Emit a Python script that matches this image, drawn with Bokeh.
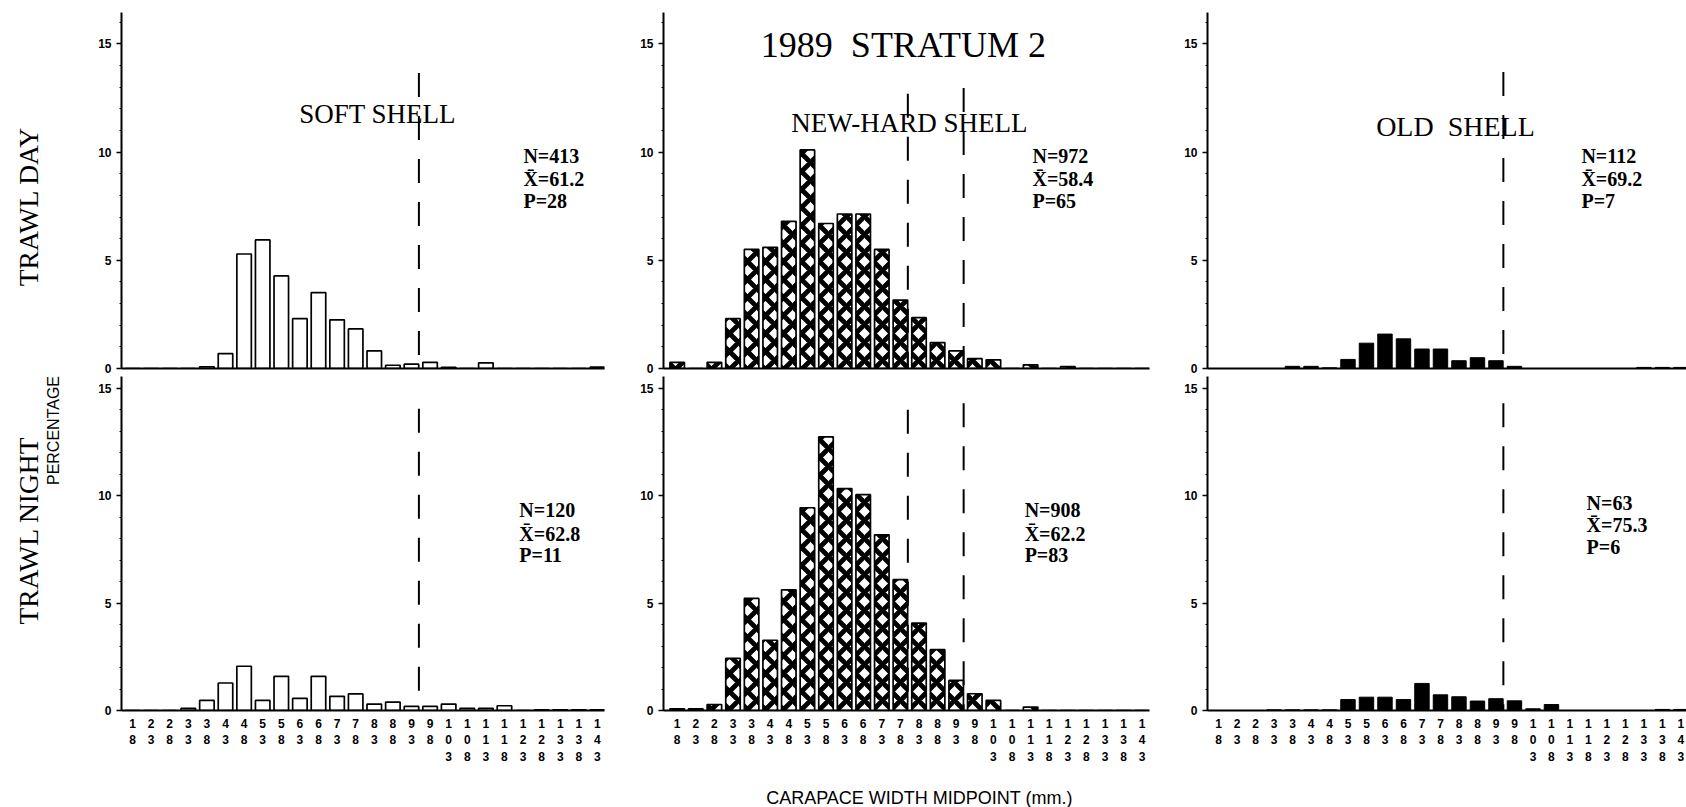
import math
from bokeh.plotting import figure
from bokeh.layouts import column, row
from bokeh.models import ColumnDataSource, Label, FixedTicker, Range1d
from bokeh.core.properties import value
from bokeh.embed import file_html
from bokeh.resources import INLINE

# ---- data -------------------------------------------------------------
midpoints = [18, 23, 28, 33, 38, 43, 48, 53, 58, 63, 68, 73, 78,
             83, 88, 93, 98, 103, 108, 113, 118, 123, 128, 133, 138, 143]
tick_labels = ["\n".join(str(m)) for m in midpoints]

soft_day = [0, 0, 0, 0, 0.08, 0.69, 5.29, 5.94, 4.28, 2.30, 3.51, 2.25, 1.83,
            0.81, 0.15, 0.20, 0.28, 0.05, 0, 0.26, 0, 0, 0, 0, 0, 0.07]
soft_night = [0, 0, 0, 0.10, 0.47, 1.28, 2.06, 0.47, 1.59, 0.56, 1.59, 0.66, 0.77,
              0.30, 0.39, 0.19, 0.19, 0.30, 0.10, 0.10, 0.22, 0, 0.03, 0.03, 0.03, 0.03]
newhard_day = [0.28, 0, 0.28, 2.30, 5.50, 5.60, 6.80, 10.10, 6.70, 7.14, 7.14, 5.50, 3.16,
               2.35, 1.20, 0.81, 0.46, 0.40, 0, 0.17, 0, 0.09, 0, 0, 0, 0]
newhard_night = [0.08, 0.08, 0.28, 2.43, 5.22, 3.27, 5.62, 9.44, 12.74, 10.33, 10.05, 8.18, 6.09,
                 4.07, 2.83, 1.40, 0.78, 0.47, 0, 0.16, 0, 0, 0, 0, 0, 0]
old_day = [0, 0, 0, 0, 0.10, 0.10, 0.03, 0.42, 1.17, 1.59, 1.37, 0.90, 0.90,
           0.36, 0.50, 0.36, 0.10, 0, 0, 0, 0, 0, 0, 0.05, 0.05, 0.05]
old_night = [0, 0, 0, 0.03, 0.03, 0.03, 0.03, 0.51, 0.62, 0.62, 0.51, 1.26, 0.73,
             0.64, 0.44, 0.55, 0.45, 0.08, 0.28, 0, 0, 0, 0, 0, 0.05, 0.05]

stats_soft_day = ["N=413", "X\u0304=61.2", "P=28"]
stats_soft_night = ["N=120", "X\u0304=62.8", "P=11"]
stats_new_day = ["N=972", "X\u0304=58.4", "P=65"]
stats_new_night = ["N=908", "X\u0304=62.2", "P=83"]
stats_old_day = ["N=112", "X\u0304=69.2", "P=7"]
stats_old_night = ["N=63", "X\u0304=75.3", "P=6"]

soft_cuts = [95]
new_cuts = [80, 95]
old_cuts = [95]

title_text = "1989\u00a0\u00a0STRATUM 2"
panel_titles = ["SOFT SHELL", "NEW-HARD SHELL", "OLD\u00a0\u00a0SHELL"]
row_titles = ["TRAWL DAY", "TRAWL NIGHT"]
y_title = "PERCENTAGE"
x_title = "CARAPACE WIDTH MIDPOINT (mm.)"

SERIF = "Liberation Serif"
SANS = "Liberation Sans"


def make_panel(values, kind, width, height, xr, yr, mb, top_row, cuts, cut_tops,
               stats, stats_x, stats_y):
    p = figure(width=width, height=height, output_backend="svg", toolbar_location=None,
               x_range=Range1d(*xr), y_range=Range1d(*yr),
               min_border_left=mb[0], min_border_right=mb[1],
               min_border_top=mb[2], min_border_bottom=mb[3])
    p.outline_line_color = None
    p.xgrid.visible = False
    p.ygrid.visible = False
    p.background_fill_color = "white"
    p.border_fill_color = "white"

    src = ColumnDataSource(dict(x=midpoints, top=values))
    if kind == "soft":
        p.vbar(x="x", top="top", bottom=0, width=3.9, source=src,
               fill_color="white", line_color="black", line_width=1.7)
    elif kind == "new":
        p.vbar(x="x", top="top", bottom=0, width=3.9, source=src,
               fill_color="white", line_color="black", line_width=1.7,
               hatch_pattern="diagonal_cross", hatch_color="black",
               hatch_weight=4.8, hatch_scale=18)
    else:
        p.vbar(x="x", top="top", bottom=0, width=3.9, source=src,
               fill_color="black", line_color="black", line_width=1)

    csrc = ColumnDataSource(dict(x=cuts, y0=cut_tops))
    p.segment(x0="x", y0="y0", x1="x", y1=0, source=csrc, line_color="black",
              line_width=2, line_dash="24 19")

    for txt, yy in zip(stats, stats_y):
        p.add_layout(Label(x=stats_x, y=yy, text=txt, text_font=SERIF,
                           text_font_size="20px", text_font_style="bold",
                           text_align="left", text_baseline="middle", text_color="black"))

    ya = p.yaxis[0]
    ya.ticker = FixedTicker(ticks=[0, 5, 10, 15], minor_ticks=list(range(0, 17)))
    ya.major_label_text_font = SANS
    ya.major_label_text_font_style = "bold"
    ya.major_label_text_font_size = "12px"
    ya.major_label_text_color = "black"
    ya.axis_line_width = 2
    ya.axis_line_color = "black"
    ya.major_tick_out = 5
    ya.major_tick_in = 0
    ya.major_tick_line_width = 1.5
    ya.minor_tick_out = 2
    ya.minor_tick_in = 0
    ya.major_label_standoff = 5

    xa = p.xaxis[0]
    xa.ticker = FixedTicker(ticks=midpoints)
    xa.major_tick_line_color = None
    xa.minor_tick_line_color = None
    xa.axis_line_width = 2
    xa.axis_line_color = "black"
    if top_row:
        xa.major_label_overrides = {m: "" for m in midpoints}
        xa.major_label_text_font_size = "1px"
        xa.major_label_standoff = 0
    else:
        xa.major_label_overrides = {m: t for m, t in zip(midpoints, tick_labels)}
        xa.major_label_text_font = SANS
        xa.major_label_text_font_style = "bold"
        xa.major_label_text_font_size = "12px"
        xa.major_label_text_color = "black"
        xa.major_label_standoff = 0
    return p


def strip(width, height):
    p = figure(width=width, height=height, output_backend="svg", toolbar_location=None,
               x_range=Range1d(0, width), y_range=Range1d(0, height),
               x_axis_type=None, y_axis_type=None,
               min_border_left=0, min_border_right=0, min_border_top=0, min_border_bottom=0)
    p.outline_line_color = None
    p.xgrid.visible = False
    p.ygrid.visible = False
    p.background_fill_color = "white"
    p.border_fill_color = "white"
    return p


TOP_H, BOT_H = 376, 396
TOP_YR = (0, 16.45)
BOT_YR = (0, 15.55)

stats_top_y = [9.81, 8.75, 7.74]
stats_bot_y = [9.32, 8.24, 7.22]

TOP_MB = (12, 8)
BOT_MB = (0, 62)

pA1 = make_panel(soft_day, "soft", 560, TOP_H, (15.04, 144.9), TOP_YR, (51, 26) + TOP_MB, True,
                 soft_cuts, [13.66], stats_soft_day, 123.1, stats_top_y)
pA2 = make_panel(soft_night, "soft", 560, BOT_H, (15.04, 144.9), BOT_YR, (51, 26) + BOT_MB, False,
                 soft_cuts, [14.05], stats_soft_night, 122.0, stats_bot_y)
pB1 = make_panel(newhard_day, "new", 550, TOP_H, (14.32, 144.96), TOP_YR, (33, 31) + TOP_MB, True,
                 new_cuts, [12.7, 12.96], stats_new_day, 113.5, stats_top_y)
pB2 = make_panel(newhard_night, "new", 550, BOT_H, (14.32, 144.96), BOT_YR, (33, 31) + BOT_MB, False,
                 new_cuts, [14.0, 14.3], stats_new_night, 111.4, stats_bot_y)
pC1 = make_panel(old_day, "old", 506, TOP_H, (15.03, 144.5), TOP_YR, (27, 0) + TOP_MB, True,
                 old_cuts, [13.7], stats_old_day, 116.1, stats_top_y)
pC2 = make_panel(old_night, "old", 506, BOT_H, (15.03, 144.5), BOT_YR, (27, 0) + BOT_MB, False,
                 old_cuts, [14.3], stats_old_night, 117.5, [9.64, 8.62, 7.59])

title_kw = dict(text_font=SERIF, text_align="center", text_baseline="middle", text_color="black")
pA1.add_layout(Label(x=83.9, y=11.75, text=panel_titles[0], text_font_size="27px", **title_kw))
pB1.add_layout(Label(x=80.4, y=11.33, text=panel_titles[1], text_font_size="27px", **title_kw))
pB1.add_layout(Label(x=78.8, y=14.97, text=title_text, text_font_size="36px", **title_kw))
pC1.add_layout(Label(x=82.05, y=11.19, text=panel_titles[2], text_font_size="28px", **title_kw))

# left strip with row titles and y title (coordinates in strip pixels, y up)
H = TOP_H + BOT_H
left = strip(70, H)
left.text(x=[28, 28], y=[H - 206, H - 530], text=row_titles, angle=math.pi / 2,
          text_font=value(SERIF), text_font_size="27.5px", text_align="center",
          text_baseline="middle", text_color="black")
left.text(x=[53], y=[H - 430], text=[y_title], angle=math.pi / 2,
          text_font=value(SANS), text_font_size="16px", text_align="center",
          text_baseline="middle", text_color="black")

bottom = strip(1686, 807 - H)
bottom.text(x=[919], y=[807 - H - 25], text=[x_title], text_font=value(SANS),
            text_font_size="18px", text_align="center", text_baseline="middle",
            text_color="black")

layout = column(
    row(left, column(row(pA1, pB1, pC1), row(pA2, pB2, pC2))),
    bottom,
)

with open("out.html", "w") as f:
    f.write(file_html(layout, INLINE))
